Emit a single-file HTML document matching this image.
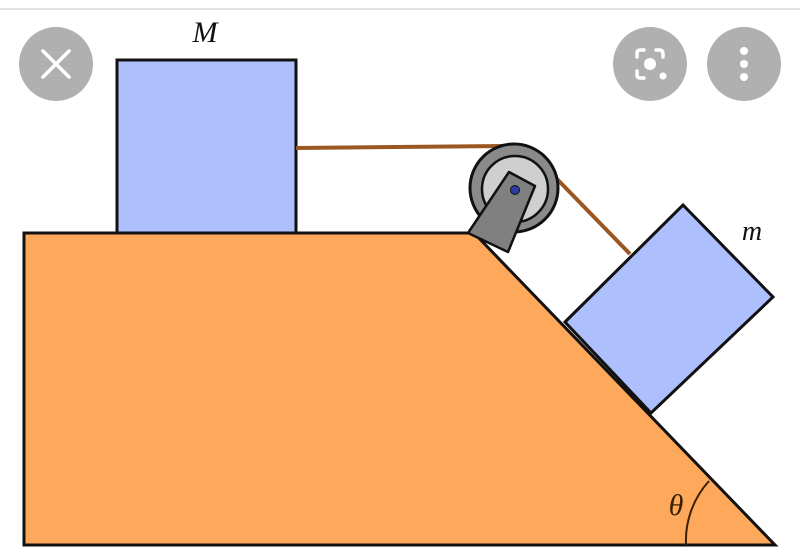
<!DOCTYPE html>
<html><head><meta charset="utf-8"><style>
html,body{margin:0;padding:0;background:#fff;width:800px;height:560px;overflow:hidden}
</style></head><body>
<svg width="800" height="560" viewBox="0 0 800 560" xmlns="http://www.w3.org/2000/svg">
<rect width="800" height="560" fill="#fff"/>
<line x1="0" y1="9" x2="800" y2="9" stroke="#e2e2e2" stroke-width="2"/>
<polygon points="24,233 474,233 775,545 24,545" fill="#fda85a" stroke="#111" stroke-width="3"/>
<rect x="117" y="60" width="179" height="173" fill="#aebffd" stroke="#111" stroke-width="3"/>
<text x="205" y="42" font-family="Liberation Serif,serif" font-style="italic" font-size="30" text-anchor="middle" fill="#111">M</text>
<line x1="296" y1="148" x2="505" y2="146" stroke="#9c5620" stroke-width="4"/>
<line x1="556" y1="178" x2="630" y2="254" stroke="#9c5620" stroke-width="4"/>
<polygon points="565,322 683,205 773,297 651,413" fill="#aebffd" stroke="#111" stroke-width="3"/>
<text x="752" y="240" font-family="Liberation Serif,serif" font-style="italic" font-size="28" text-anchor="middle" fill="#111">m</text>
<circle cx="514" cy="188" r="44" fill="#8a8a8a" stroke="#111" stroke-width="3"/>
<circle cx="515" cy="189" r="33" fill="#cfcfcf" stroke="#111" stroke-width="2.5"/>
<polygon points="509,172 535,186 508,252 468,233" fill="#808080" stroke="#111" stroke-width="2.5" stroke-linejoin="round"/>
<circle cx="515" cy="190" r="4.5" fill="#2a3aa0" stroke="#111" stroke-width="1"/>
<path d="M686,545 A89,89 0 0 1 709,481" fill="none" stroke="#3a2000" stroke-width="2"/>
<text x="676" y="515" font-family="Liberation Serif,serif" font-style="italic" font-size="30" text-anchor="middle" fill="#3a2000">θ</text>
<circle cx="56" cy="64" r="37" fill="#b0b0b0"/>
<path d="M43,51 L69,77 M69,51 L43,77" stroke="#fff" stroke-width="3.5" stroke-linecap="round"/>
<circle cx="650" cy="64" r="37" fill="#b0b0b0"/>
<g stroke="#fff" stroke-width="3.5" fill="none" stroke-linecap="round">
<path d="M637,57 V53 Q637,50 641,50 H644"/>
<path d="M656,50 H659 Q663,50 663,54 V57"/>
<path d="M637,71 V75 Q637,78 641,78 H644"/>
</g>
<circle cx="650" cy="64" r="6" fill="#fff"/>
<circle cx="663" cy="76" r="3.5" fill="#fff"/>
<circle cx="744" cy="64" r="37" fill="#b0b0b0"/>
<circle cx="744" cy="51" r="4" fill="#fff"/>
<circle cx="744" cy="64" r="4" fill="#fff"/>
<circle cx="744" cy="77" r="4" fill="#fff"/>
</svg>
</body></html>
